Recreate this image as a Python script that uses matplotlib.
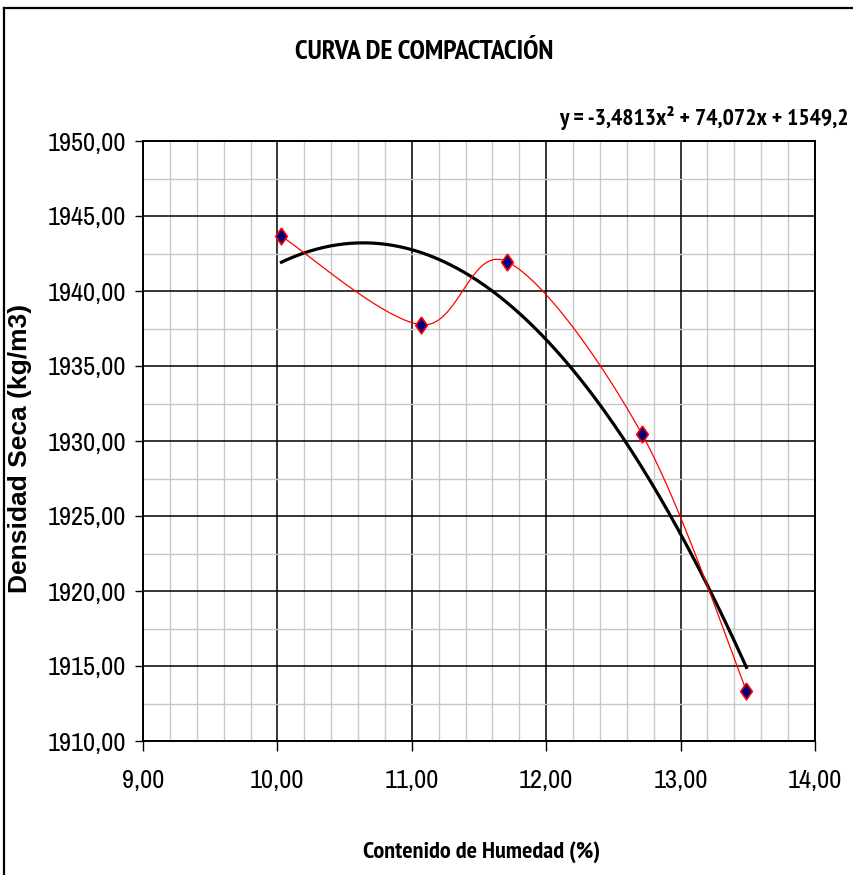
import matplotlib
matplotlib.use("Agg")
import matplotlib.pyplot as plt
from matplotlib import font_manager
from matplotlib.font_manager import FontProperties
from matplotlib.ticker import MultipleLocator, FuncFormatter
from matplotlib.lines import Line2D
import numpy as np

# data
humedad = [10.03, 11.07, 11.71, 12.71, 13.49]
densidad = [1943.65, 1937.75, 1941.95, 1930.5, 1913.35]
coef = [-3.4813, 74.072, 1549.2]   # trendline shown in the chart
eq_label = "y = -3,4813x² + 74,072x + 1549,2"


def pick_font(bold):
    # a narrow face is closest to the Arial Narrow of the original
    cands = []
    for f in font_manager.fontManager.ttflist:
        is_bold = f.weight in ("bold", 700, "heavy") or (isinstance(f.weight, int) and f.weight >= 600)
        if is_bold != bold or f.style != "normal":
            continue
        nm = f.name + " " + f.fname
        if "Narrow" in nm:
            cands.append((0, f.fname))
        elif "Condensed" in nm or f.stretch in ("condensed", "semi-condensed", 400):
            cands.append((1, f.fname))
    if cands:
        return FontProperties(fname=sorted(cands)[0][1])
    return FontProperties(family="Liberation Sans", weight="bold" if bold else "normal")


fn_reg = pick_font(False)
fn_bold = pick_font(True)

fig = plt.figure(figsize=(8.54, 8.75), dpi=100)
ax = fig.add_axes([143 / 854, 1 - 741 / 875, 672 / 854, 600 / 875])

ax.set_xlim(9, 14)
ax.set_ylim(1910, 1950)
ax.xaxis.set_major_locator(MultipleLocator(1))
ax.xaxis.set_minor_locator(MultipleLocator(0.2))
ax.yaxis.set_major_locator(MultipleLocator(5))
ax.yaxis.set_minor_locator(MultipleLocator(2.5))
fmt = FuncFormatter(lambda v, p: f"{v:.2f}".replace(".", ","))
ax.xaxis.set_major_formatter(fmt)
ax.yaxis.set_major_formatter(fmt)

ax.grid(which="minor", color="#c8c8c8", lw=1.0)
ax.grid(which="major", color="black", lw=1.1)
ax.set_axisbelow(True)
ax.tick_params(which="major", direction="out", length=6, width=1, pad=6)
ax.tick_params(axis="x", which="major", length=7, pad=13)
ax.tick_params(which="minor", length=0)
for lab in ax.get_xticklabels() + ax.get_yticklabels():
    lab.set_fontproperties(fn_reg)
    lab.set_fontsize(19)
for s in ax.spines.values():
    s.set_linewidth(1.4)

# polynomial trendline
xt = np.linspace(min(humedad), max(humedad), 200)
ax.plot(xt, np.polyval(coef, xt), color="black", lw=2.3, zorder=3)

# smoothed red line (bezier, computed in pixel space like Excel)
fig.canvas.draw()
pts = ax.transData.transform(np.column_stack([humedad, densidad]))
P = np.vstack([pts[0], pts, pts[-1]])
curve = []
t = np.linspace(0, 1, 40)[:, None]
for i in range(1, len(P) - 2):
    p0, p1, p2, p3 = P[i - 1], P[i], P[i + 1], P[i + 2]
    c1 = p1 + (p2 - p0) / 6
    c2 = p2 - (p3 - p1) / 6
    seg = (1 - t) ** 3 * p1 + 3 * (1 - t) ** 2 * t * c1 + 3 * (1 - t) * t ** 2 * c2 + t ** 3 * p2
    curve.append(seg)
curve = ax.transData.inverted().transform(np.vstack(curve))
ax.plot(curve[:, 0], curve[:, 1], color="red", lw=0.9, zorder=4)
diamond = [(0, 1), (0.7, 0), (0, -1), (-0.7, 0), (0, 1)]
ax.plot(humedad, densidad, ls="none", marker=diamond, ms=12, mfc="#000080",
        mec="red", mew=1.2, zorder=5)

fig.text(424 / 854, 1 - 52 / 875, "CURVA DE COMPACTACIÓN", fontproperties=fn_bold,
         fontsize=20, ha="center", va="center")
fig.text(849 / 854, 1 - 118 / 875, eq_label, fontproperties=fn_bold,
         fontsize=17, ha="right", va="center")
fig.text(482 / 854, 1 - 852 / 875, "Contenido de Humedad (%)", fontproperties=fn_bold,
         fontsize=17.5, ha="center", va="center")
fig.text(20 / 854, 1 - 448 / 875, "Densidad Seca (kg/m3)", family="Liberation Sans",
         weight="bold", fontsize=19, ha="center", va="center", rotation=90)

# chart border (right and bottom are cut off in the original)
fig.add_artist(Line2D([4 / 854, 1], [1 - 8 / 875] * 2, color="black", lw=1.6, transform=fig.transFigure))
fig.add_artist(Line2D([4 / 854] * 2, [0, 1 - 8 / 875], color="black", lw=1.6, transform=fig.transFigure))

fig.savefig("out.png", dpi=100)
